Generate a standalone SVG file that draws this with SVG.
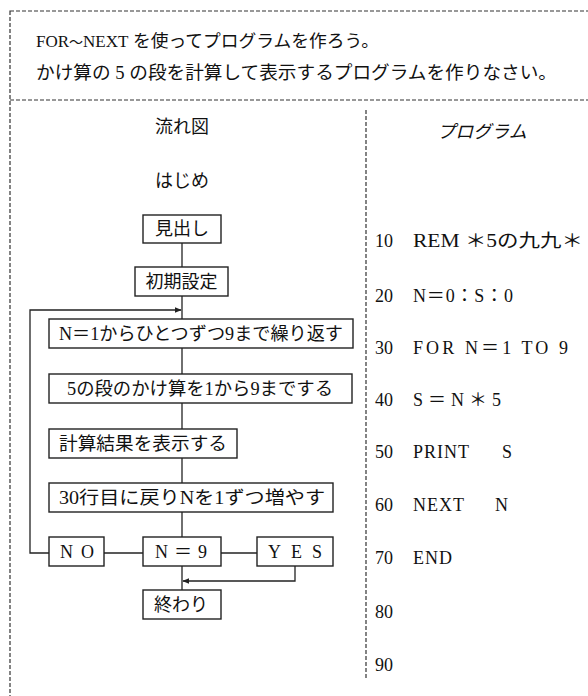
<svg xmlns="http://www.w3.org/2000/svg" width="588" height="696" viewBox="0 0 588 696">
<style>
  .t { font-family: "Liberation Serif", "Noto Sans CJK JP", serif; fill: #111; }
  .j { font-family: "Noto Sans CJK JP", "Liberation Sans", sans-serif; fill: #111; }
  .box { fill: #fff; stroke: #222; stroke-width: 1.4; }
  .ln { fill: none; stroke: #222; stroke-width: 1.3; }
  .dash { fill: none; stroke: #333; stroke-width: 1.2; stroke-dasharray: 4 2; }
  .lbl { font-size: 18px; text-anchor: middle; }
  .num { font-size: 18px; }
  .stmt { font-size: 18px; letter-spacing: 1px; }
</style>
<defs>
  <marker id="ah" viewBox="0 0 10 10" refX="9" refY="5" markerWidth="7" markerHeight="7" markerUnits="userSpaceOnUse" orient="auto">
    <path d="M0,1 L10,5 L0,9 Z" fill="#222"/>
  </marker>
</defs>
<rect width="588" height="696" fill="#fff"/>

<!-- frame -->
<g id="frame">
  <rect class="dash" x="10" y="11" width="620" height="720"/>
  <line class="dash" x1="10" y1="100" x2="588" y2="100"/>
  <line class="dash" x1="366" y1="110" x2="366" y2="678" stroke-dasharray="5 3"/>
</g>

<!-- heading -->
<g id="heading">
  <text class="t" x="36" y="47" font-size="17">FOR<tspan font-size="14">～</tspan>NEXT</text>
  <text class="t" x="133" y="47" font-size="17.5" textLength="246" lengthAdjust="spacingAndGlyphs">を使ってプログラムを作ろう。</text>
  <text class="t" x="36" y="79" font-size="18" textLength="521" lengthAdjust="spacingAndGlyphs">かけ算の 5 の段を計算して表示するプログラムを作りなさい。</text>
</g>

<!-- section titles -->
<g id="title-flow"><text class="j lbl" x="182" y="133" font-size="17">流れ図</text></g>
<g id="title-prog"><text class="j lbl" x="482" y="138" font-size="16" font-style="italic">プログラム</text></g>
<g id="start"><text class="j lbl" x="182" y="187" font-size="17">はじめ</text></g>

<!-- connectors -->
<g id="connectors">
  <line class="ln" x1="182" y1="243" x2="182" y2="267"/>
  <line class="ln" x1="182" y1="296" x2="182" y2="319"/>
  <line class="ln" x1="182" y1="348" x2="182" y2="374"/>
  <line class="ln" x1="182" y1="403" x2="182" y2="429"/>
  <line class="ln" x1="182" y1="458" x2="182" y2="483"/>
  <line class="ln" x1="182" y1="512" x2="182" y2="537"/>
  <line class="ln" x1="182" y1="566" x2="182" y2="590"/>
  <line class="ln" x1="104" y1="553" x2="143" y2="553"/>
  <line class="ln" x1="221" y1="553" x2="257" y2="553"/>
  <polyline class="ln" points="49,553 30,553 30,310 181,310" marker-end="url(#ah)"/>
  <polyline class="ln" points="295,566 295,581 183,581" marker-end="url(#ah)"/>
</g>

<!-- flowchart nodes -->
<g id="n-midashi">
  <rect class="box" x="143" y="215" width="78" height="28"/>
  <text class="j lbl" x="182" y="235" font-size="17.5">見出し</text>
</g>
<g id="n-shoki">
  <rect class="box" x="135" y="267" width="93" height="29"/>
  <text class="j lbl" x="181.5" y="288" font-size="18">初期設定</text>
</g>
<g id="n-loop">
  <rect class="box" x="49" y="319" width="304" height="29"/>
  <text class="t" x="59" y="340" font-size="18" textLength="284" lengthAdjust="spacingAndGlyphs">N＝1からひとつずつ9まで繰り返す</text>
</g>
<g id="n-calc">
  <rect class="box" x="49" y="374" width="303" height="29"/>
  <text class="t" x="67" y="395" font-size="18" textLength="266" lengthAdjust="spacingAndGlyphs">5の段のかけ算を1から9までする</text>
</g>
<g id="n-show">
  <rect class="box" x="49" y="429" width="188" height="29"/>
  <text class="j" x="59" y="450" font-size="18" textLength="168" lengthAdjust="spacingAndGlyphs">計算結果を表示する</text>
</g>
<g id="n-next">
  <rect class="box" x="49" y="483" width="284" height="29"/>
  <text class="t" x="59" y="504" font-size="18" textLength="266" lengthAdjust="spacingAndGlyphs">30行目に戻りNを1ずつ増やす</text>
</g>
<g id="n-no">
  <rect class="box" x="49" y="537" width="55" height="29"/>
  <text class="t" x="60" y="558" font-size="18" textLength="34" lengthAdjust="spacing">NO</text>
</g>
<g id="n-cond">
  <rect class="box" x="143" y="537" width="78" height="29"/>
  <text class="t" x="155" y="558" font-size="18" textLength="52" lengthAdjust="spacing">N＝9</text>
</g>
<g id="n-yes">
  <rect class="box" x="257" y="537" width="76" height="29"/>
  <text class="t" x="268" y="558" font-size="18" textLength="54" lengthAdjust="spacing">YES</text>
</g>
<g id="n-end">
  <rect class="box" x="143" y="590" width="78" height="29"/>
  <text class="j lbl" x="181" y="611" font-size="18">終わり</text>
</g>

<!-- program listing -->
<g id="program">
  <text class="t num" x="375" y="247">10</text>
  <text class="t" x="413" y="247" font-size="18" textLength="170" lengthAdjust="spacingAndGlyphs">REM ＊5の九九＊</text>
  <text class="t num" x="375" y="302">20</text>
  <text class="t" x="413" y="302" font-size="18" textLength="100" lengthAdjust="spacing">N＝0：S：0</text>
  <text class="t num" x="375" y="354">30</text>
  <text class="t" x="413" y="354" font-size="18" textLength="155" lengthAdjust="spacing">FOR N＝1 TO 9</text>
  <text class="t num" x="375" y="406">40</text>
  <text class="t" x="413" y="406" font-size="18" textLength="88" lengthAdjust="spacing">S＝N＊5</text>
  <text class="t num" x="375" y="458">50</text>
  <text class="t stmt" x="413" y="458">PRINT<tspan x="502">S</tspan></text>
  <text class="t num" x="375" y="511">60</text>
  <text class="t stmt" x="413" y="511">NEXT<tspan x="495">N</tspan></text>
  <text class="t num" x="375" y="564">70</text>
  <text class="t stmt" x="413" y="564">END</text>
  <text class="t num" x="375" y="618">80</text>
  <text class="t num" x="375" y="671">90</text>
</g>
</svg>
